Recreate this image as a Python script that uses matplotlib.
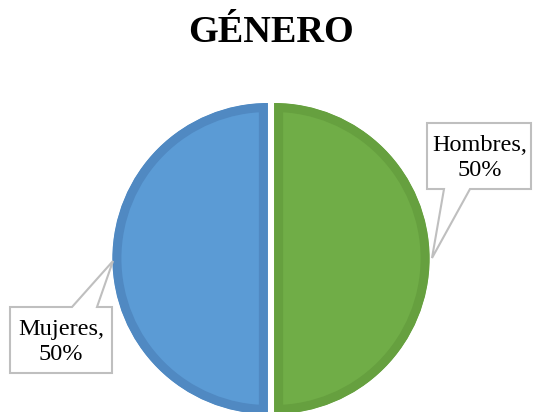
import matplotlib.pyplot as plt
from matplotlib.patches import Polygon
from matplotlib.transforms import Affine2D

# Data
labels = ['Hombres', 'Mujeres']
values = [50, 50]
colors = ['#70AD47', '#5B9BD5']
edge_colors = ['#66A03F', '#5089C2']

W, H = 533, 412
fig = plt.figure(figsize=(W / 100, H / 100), dpi=100)

# pixel coords (origin top-left) -> figure
px = Affine2D().scale(1 / W, -1 / H).translate(0, 1) + fig.transFigure

# pie axes, center ~ (271, 258.5), radius ~155px
cx, cy, r = 271, 258.5, 155.5
ax = fig.add_axes([(cx - r) / W, (H - cy - r) / H, 2 * r / W, 2 * r / H])
wedges, _ = ax.pie(values, colors=colors, startangle=90, counterclock=False,
                   explode=[0.02, 0.02], radius=1,
                   wedgeprops=dict(linewidth=13, joinstyle='miter'))
for w, ec in zip(wedges, edge_colors):
    w.set_edgecolor(ec)
    # keep only the inner half of the border
    w.set_clip_on(True)
    w.set_clip_box(None)
    w.set_clip_path(w)
ax.set_xlim(-1, 1)
ax.set_ylim(-1, 1)
ax.set_aspect('equal')
ax.axis('off')

fig.text(271 / W, 1 - 32 / H, 'GÉNERO', ha='center', va='center',
         family='Liberation Serif', fontweight='bold', fontsize=27.5)

# callouts (box with pointer to the slice edge)
callouts = {
    'Hombres': dict(poly=[(427, 123), (531, 123), (531, 189), (470, 189),
                          (432, 258), (444, 189), (427, 189)],
                    text=(480, 158)),
    'Mujeres': dict(poly=[(10, 307), (72, 307), (113, 261), (97, 307),
                          (112, 307), (112, 373), (10, 373)],
                    text=(61, 342)),
}
for lab, val in zip(labels, values):
    c = callouts[lab]
    fig.add_artist(Polygon(c['poly'], closed=True, transform=px, facecolor='white',
                           edgecolor='#BFBFBF', linewidth=1.5, zorder=2))
    fig.text(c['text'][0], c['text'][1], f'{lab},\n{val}%', transform=px,
             ha='center', va='center', multialignment='center',
             family='Liberation Serif', fontsize=17.5, linespacing=1.2, zorder=3)

fig.savefig('out.png', dpi=100)
